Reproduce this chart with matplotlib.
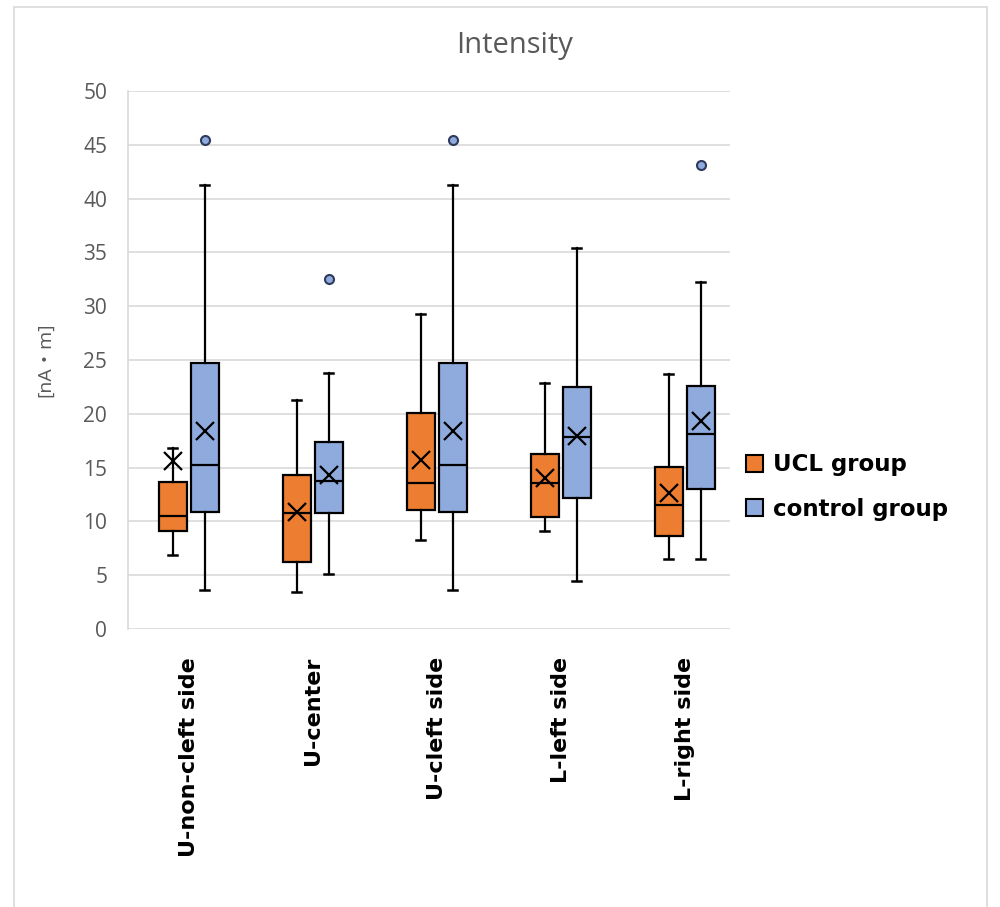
import matplotlib
matplotlib.use("Agg")
import matplotlib.pyplot as plt
from matplotlib.patches import Patch, Rectangle

categories = ["U-non-cleft side", "U-center", "U-cleft side", "L-left side", "L-right side"]
groups = ["UCL group", "control group"]

# UCL group statistics
ucl_whislo = [6.9, 3.4, 8.3, 9.1, 6.5]
ucl_q1     = [9.1, 6.2, 11.1, 10.4, 8.6]
ucl_med    = [10.5, 10.75, 13.6, 13.6, 11.5]
ucl_q3     = [13.7, 14.3, 20.1, 16.3, 15.1]
ucl_whishi = [16.8, 21.3, 29.3, 22.9, 23.7]
ucl_mean   = [15.6, 10.9, 15.7, 14.0, 12.6]
ucl_fliers = [[], [], [], [], []]

# control group statistics
ctl_whislo = [3.6, 5.1, 3.6, 4.5, 6.5]
ctl_q1     = [10.9, 10.75, 10.9, 12.2, 13.0]
ctl_med    = [15.2, 13.75, 15.2, 17.85, 18.1]
ctl_q3     = [24.7, 17.4, 24.7, 22.5, 22.6]
ctl_whishi = [41.3, 23.8, 41.3, 35.4, 32.25]
ctl_mean   = [18.4, 14.3, 18.4, 17.9, 19.3]
ctl_fliers = [[45.4], [32.5], [45.4], [], [43.1]]

colors = ["#ED7D31", "#8FAADC"]

W, H = 1000, 907
fig = plt.figure(figsize=(W / 100, H / 100), dpi=100)
fig.patches.append(Rectangle((14 / W, -0.01), (987 - 14) / W, 1 - 7 / H + 0.01,
                             transform=fig.transFigure, fill=False,
                             edgecolor="#D9D9D9", linewidth=1.2))

ax = fig.add_axes([128 / W, 1 - 629 / H, (730 - 128) / W, (629 - 91) / H])

def make_stats(wl, q1, med, q3, wh, mean, fl):
    return [dict(whislo=a, q1=b, med=c, q3=d, whishi=e, mean=f, fliers=g, label="")
            for a, b, c, d, e, f, g in zip(wl, q1, med, q3, wh, mean, fl)]

series = [
    make_stats(ucl_whislo, ucl_q1, ucl_med, ucl_q3, ucl_whishi, ucl_mean, ucl_fliers),
    make_stats(ctl_whislo, ctl_q1, ctl_med, ctl_q3, ctl_whishi, ctl_mean, ctl_fliers),
]
offsets = [-0.129, 0.129]
bw = 0.226

for stats, off, col in zip(series, offsets, colors):
    pos = [i + off for i in range(len(categories))]
    ax.bxp(stats, positions=pos, widths=bw, patch_artist=True, showmeans=True,
           capwidths=0.075,
           boxprops=dict(facecolor=col, edgecolor="black", linewidth=1.6),
           medianprops=dict(color="black", linewidth=1.6),
           whiskerprops=dict(color="black", linewidth=1.6),
           capprops=dict(color="black", linewidth=1.8),
           meanprops=dict(marker="x", markersize=13, markeredgecolor="black",
                          markeredgewidth=1.6),
           flierprops=dict(marker="o", markersize=6.5, markerfacecolor="#8FAADC",
                           markeredgecolor="#2F3B5C", markeredgewidth=1.5),
           zorder=3)

ax.set_xlim(-0.49, 4.365)
ax.set_ylim(0, 50)
ax.set_yticks(range(0, 51, 5))
ax.yaxis.grid(True, color="#D9D9D9", linewidth=1.2, zorder=0)
ax.set_axisbelow(True)
for s in ["top", "right", "bottom"]:
    ax.spines[s].set_visible(False)
ax.spines["left"].set_color("#D9D9D9")
ax.spines["left"].set_linewidth(1.2)
ax.tick_params(axis="both", length=0)
ax.tick_params(axis="y", pad=15, labelsize=15, labelcolor="#595959")
for lbl in ax.get_yticklabels():
    lbl.set_family("Open Sans")

ax.set_xticks(range(len(categories)))
ax.set_xticklabels(categories, rotation=90, fontsize=16, fontweight="bold",
                   family="DejaVu Sans", color="black")
ax.tick_params(axis="x", pad=20)

fig.text(45 / W, 1 - 360 / H, "[nA・m]", rotation=90, ha="center", va="center",
         fontsize=14, color="#595959", family=["Open Sans", "Noto Sans CJK JP"])
fig.text(515 / W, 1 - 45 / H, "Intensity", ha="center", va="center",
         fontsize=21, color="#595959", family="Open Sans")

handles = [Patch(facecolor=c, edgecolor="black", linewidth=1.5, label=g)
           for c, g in zip(colors, groups)]
fig.legend(handles=handles, loc="center left", bbox_to_anchor=(737 / W, 1 - 487 / H),
           frameon=False, prop=dict(family="DejaVu Sans", weight="bold", size=16.5),
           handlelength=0.75, handleheight=0.75, handletextpad=0.4, labelspacing=0.95,
           borderaxespad=0)

fig.savefig("out.png", dpi=100)
